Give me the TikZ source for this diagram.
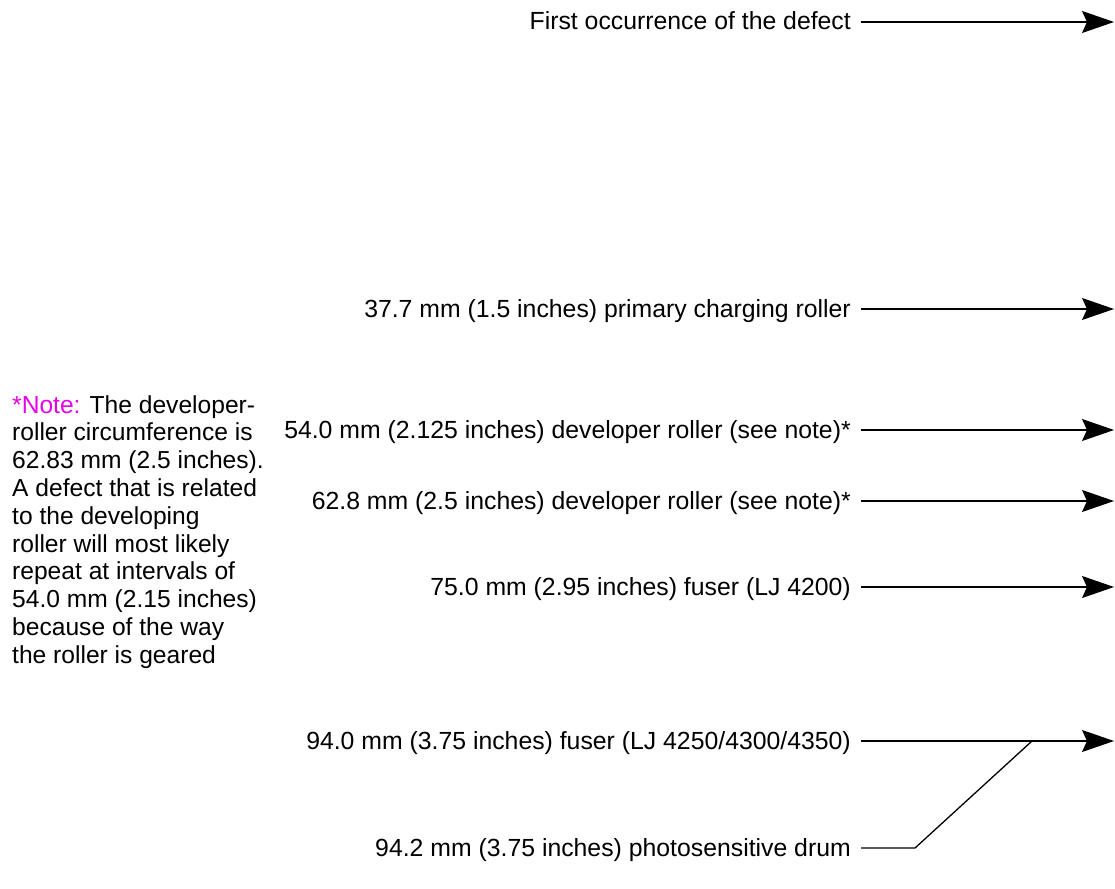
\documentclass[tikz,border=0pt]{standalone}
\usepackage{fontspec}
\setmainfont{Liberation Sans}
\usetikzlibrary{arrows.meta,positioning}
\definecolor{notepink}{RGB}{230,0,230}
\tikzset{
  lbl/.style={
    anchor=base east, inner sep=0pt,
    font=\fontsize{24.8}{27.8}\selectfont
  },
  notetext/.style={
    anchor=north west, inner sep=0pt, align=left,
    font=\fontsize{24.6}{27.8}\selectfont
  },
  arrow/.style={-{Stealth[length=32pt,width=22pt,inset=5pt]}, line width=1.3pt},
  lead/.style={line width=1.3pt},
  start/.style={xshift=10pt, yshift=8pt}
}

\begin{document}
\begin{tikzpicture}[x=1pt,y=-1pt]
\useasboundingbox (0,0) rectangle (1115,888);

% ---------- Defect intervals ----------
\node[lbl] (first) at (851,30) {First occurrence of the defect};
\coordinate (firstend) at (1114,22);
\draw[arrow] ([start]first.base east) -- (firstend);

\node[lbl] (pcr) at (851,317) {37.7 mm (1.5 inches) primary charging roller};
\coordinate (pcrend) at (1114,309);
\draw[arrow] ([start]pcr.base east) -- (pcrend);

\node[lbl] (devA) at (851,438) {54.0 mm (2.125 inches) developer roller (see note)*};
\coordinate (devAend) at (1114,430);
\draw[arrow] ([start]devA.base east) -- (devAend);

\node[lbl] (devB) at (851,509) {62.8 mm (2.5 inches) developer roller (see note)*};
\coordinate (devBend) at (1114,501);
\draw[arrow] ([start]devB.base east) -- (devBend);

\node[lbl] (fuserA) at (851,595) {75.0 mm (2.95 inches) fuser (LJ 4200)};
\coordinate (fuserAend) at (1114,587);
\draw[arrow] ([start]fuserA.base east) -- (fuserAend);

\node[lbl] (fuserB) at (851,749) {94.0 mm (3.75 inches) fuser (LJ 4250/4300/4350)};
\coordinate (fuserBend) at (1114,741);
\draw[arrow] ([start]fuserB.base east) -- (fuserBend);

% ---------- Drum joins the fuser line ----------
\node[lbl] (drum) at (851,856) {94.2 mm (3.75 inches) photosensitive drum};
\coordinate (bend) at (915,848);
\coordinate (join) at (1032,741);
\draw[lead] ([start]drum.base east) -- (bend) -- (join);

% ---------- Note ----------
\node[notetext] (note) at (12,395) {\textcolor{notepink}{*Note:} The developer-\\
roller circumference is\\
62.83 mm (2.5 inches).\\
A defect that is related\\
to the developing\\
roller will most likely\\
repeat at intervals of\\
54.0 mm (2.15 inches)\\
because of the way\\
the roller is geared};

\end{tikzpicture}
\end{document}
